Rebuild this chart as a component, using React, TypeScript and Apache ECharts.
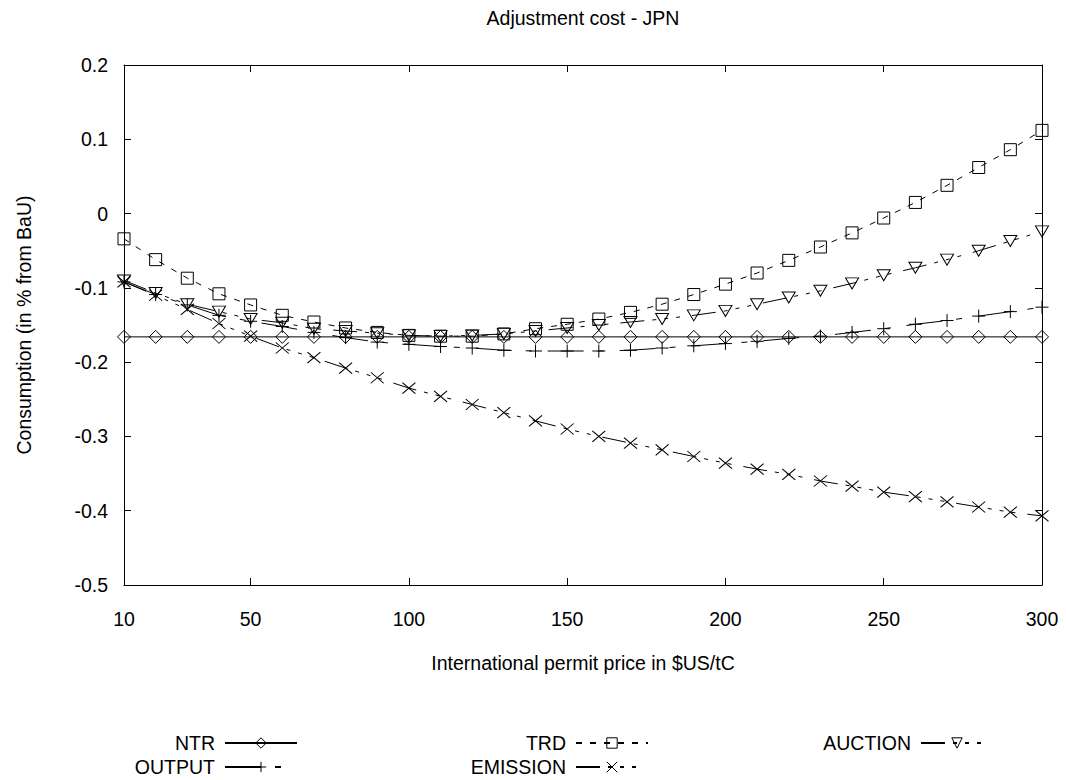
import React, { useEffect, useRef } from "react";
import * as echarts from "echarts";

const prices = [10, 20, 30, 40, 50, 60, 70, 80, 90, 100, 110, 120, 130, 140, 150, 160, 170, 180, 190, 200, 210, 220, 230, 240, 250, 260, 270, 280, 290, 300];
const xTickValues = [10, 50, 100, 150, 200, 250, 300];

const ntr = [-0.166, -0.166, -0.166, -0.166, -0.166, -0.166, -0.166, -0.166, -0.166, -0.166, -0.166, -0.166, -0.166, -0.166, -0.166, -0.166, -0.166, -0.166, -0.166, -0.166, -0.166, -0.166, -0.166, -0.166, -0.166, -0.166, -0.166, -0.166, -0.166, -0.166];
const trd = [-0.034, -0.062, -0.087, -0.108, -0.123, -0.137, -0.146, -0.154, -0.160, -0.164, -0.165, -0.165, -0.162, -0.155, -0.149, -0.142, -0.133, -0.122, -0.109, -0.095, -0.080, -0.063, -0.045, -0.026, -0.006, 0.015, 0.038, 0.062, 0.086, 0.112];
const auction = [-0.090, -0.107, -0.122, -0.132, -0.142, -0.147, -0.155, -0.158, -0.161, -0.164, -0.165, -0.164, -0.162, -0.158, -0.154, -0.150, -0.146, -0.142, -0.137, -0.131, -0.122, -0.113, -0.104, -0.094, -0.083, -0.073, -0.062, -0.050, -0.037, -0.024];
const output = [-0.092, -0.109, -0.123, -0.137, -0.145, -0.152, -0.160, -0.167, -0.173, -0.176, -0.179, -0.181, -0.184, -0.185, -0.185, -0.185, -0.184, -0.181, -0.178, -0.175, -0.172, -0.168, -0.165, -0.160, -0.155, -0.149, -0.144, -0.138, -0.132, -0.126];
const emission = [-0.092, -0.110, -0.129, -0.148, -0.165, -0.181, -0.194, -0.208, -0.221, -0.235, -0.246, -0.257, -0.268, -0.279, -0.290, -0.300, -0.309, -0.318, -0.327, -0.336, -0.344, -0.351, -0.360, -0.367, -0.375, -0.381, -0.388, -0.395, -0.402, -0.407];

const FONT = "'Liberation Sans', Arial, sans-serif";
const FS = 19.5;

const SYM_DIAMOND = "path://M5,0L10,5L5,10L0,5Z";
const SYM_SQUARE = "path://M0,0L10,0L10,10L0,10Z";
const SYM_TRI_DOWN = "path://M0,0L10,0L5,8.66Z";
const SYM_PLUS = "path://M0,5L10,5M5,0L5,10";
const SYM_CROSS = "path://M0,0L10,10M0,10L10,0";

const HOLLOW = { color: "rgba(0,0,0,0)", borderColor: "#000", borderWidth: 1 };

function mk(name: string, values: number[], symbol: string, size: any, dash: any) {
  return {
    name,
    type: "line",
    data: prices.map((p, i) => [p, values[i]]),
    symbol,
    symbolSize: size,
    showSymbol: true,
    xAxisIndex: 0,
    yAxisIndex: 0,
    lineStyle: { color: "#000", width: 1, type: dash },
    itemStyle: HOLLOW,
    emphasis: { disabled: true },
  };
}

function legendFor(name: string, right: number, top: number) {
  return {
    data: [name],
    right,
    top,
    align: "right",
    padding: 0,
    itemWidth: 72,
    itemHeight: 13,
    selectedMode: false,
    itemStyle: HOLLOW,
    textStyle: { fontSize: FS, fontFamily: FONT, color: "#000", padding: [0, 5, 0, 0] },
  };
}

export default function App() {
  const ref = useRef<HTMLDivElement>(null);
  useEffect(() => {
    if (!ref.current) return;
    const chart = echarts.init(ref.current, null, { renderer: "svg" });
    const axisCommon = {
      type: "value",
      axisLine: { show: true, onZero: false, lineStyle: { color: "#000", width: 1 } },
      axisTick: { show: true, inside: true, length: 7, lineStyle: { color: "#000" } },
      splitLine: { show: false },
    };
    chart.setOption({
      animation: false,
      backgroundColor: "#fff",
      graphic: [
        {
          type: "text",
          x: 583,
          y: 18,
          style: {
            text: "Adjustment cost - JPN",
            fontSize: FS,
            fontFamily: FONT,
            fill: "#000",
            align: "center",
            verticalAlign: "middle",
            textAlign: "center",
            textVerticalAlign: "middle",
          },
        },
      ],
      grid: { left: 124, right: 24, top: 65, bottom: 195, show: false },
      xAxis: [
        {
          ...axisCommon,
          min: 10,
          max: 300,
          position: "bottom",
          axisTick: { ...axisCommon.axisTick, customValues: xTickValues },
          axisLabel: {
            customValues: xTickValues,
            fontSize: FS,
            fontFamily: FONT,
            color: "#000",
            margin: 24,
          },
          name: "International permit price in $US/tC",
          nameLocation: "middle",
          nameGap: 68,
          nameTextStyle: { fontSize: FS, fontFamily: FONT, color: "#000" },
        },
        {
          ...axisCommon,
          min: 10,
          max: 300,
          position: "top",
          axisTick: { ...axisCommon.axisTick, customValues: xTickValues },
          axisLabel: { show: false },
        },
      ],
      yAxis: [
        {
          ...axisCommon,
          min: -0.5,
          max: 0.2,
          interval: 0.1,
          position: "left",
          axisLabel: {
            fontSize: FS,
            fontFamily: FONT,
            color: "#000",
            margin: 16,
            formatter: (v: number) => String(Math.round(v * 10) / 10),
          },
          name: "Consumption (in % from BaU)",
          nameLocation: "middle",
          nameGap: 90,
          nameRotate: 90,
          nameTextStyle: { fontSize: FS, fontFamily: FONT, color: "#000" },
        },
        {
          ...axisCommon,
          min: -0.5,
          max: 0.2,
          interval: 0.1,
          position: "right",
          axisLabel: { show: false },
        },
      ],
      legend: [
        legendFor("NTR", 768, 733),
        legendFor("TRD", 417, 733),
        legendFor("AUCTION", 72, 733),
        legendFor("OUTPUT", 768, 757),
        legendFor("EMISSION", 417, 757),
      ],
      series: [
        mk("NTR", ntr, SYM_DIAMOND, 13, "solid"),
        mk("TRD", trd, SYM_SQUARE, 12, [6, 8]),
        mk("AUCTION", auction, SYM_TRI_DOWN, [13, 11], [24, 8, 4, 8, 4, 8, 4, 12]),
        mk("OUTPUT", output, SYM_PLUS, 13, [36, 14, 6, 16]),
        mk("EMISSION", emission, SYM_CROSS, [13, 11], [24, 8, 4, 8, 4, 8, 4, 12]),
      ],
    });
    return () => chart.dispose();
  }, []);
  return (
    <div
      ref={ref}
      style={{ position: "fixed", left: 0, top: 0, width: 1066, height: 780, background: "#fff" }}
    />
  );
}
